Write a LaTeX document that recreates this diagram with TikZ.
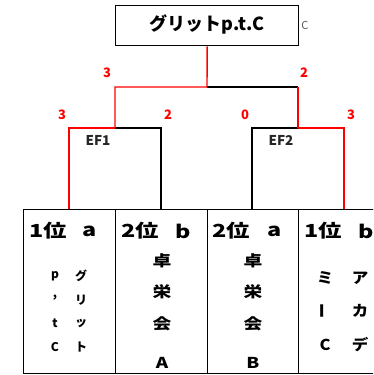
\documentclass[tikz,border=0pt]{standalone}
\usepackage{fontspec}
\setmainfont{Noto Sans CJK JP}
\begin{document}
\begin{tikzpicture}[x=1pt,y=-1pt,
  lw/.style={line width=1.4pt},
  blk/.style={lw,draw=black},
  win/.style={lw,draw=red},
  cell/.style={draw=black,lw,minimum width=#1,minimum height=164pt,inner sep=0pt,anchor=north west},
  score/.style={text=red,font=\bfseries\fontsize{13}{13}\selectfont,inner sep=0pt},
  ef/.style={text=black!85,font=\bfseries\fontsize{13.5}{13.5}\selectfont,inner sep=0pt},
  rank/.style={font=\bfseries\fontsize{18}{18}\selectfont,inner sep=0pt,xscale=1.3},
  big/.style={font=\bfseries\fontsize{15}{15}\selectfont,inner sep=0pt,xscale=1.25},
  mid/.style={font=\bfseries\fontsize{15}{15}\selectfont,inner sep=0pt,xscale=1.1},
  small/.style={font=\bfseries\fontsize{12}{12}\selectfont,inner sep=0pt}]
\useasboundingbox (0,0) rectangle (373,375);
\clip (0,0) rectangle (373,375);
% top box
\node[draw=black,lw,minimum width=183pt,minimum height=40pt,inner sep=0pt,anchor=north west] (top) at (115,5) {};
\node[font=\bfseries\fontsize{18}{18}\selectfont,inner sep=0pt] (title) at (207,24) {グリットp.t.C};
\node[text=black!65,font=\fontsize{11}{11}\selectfont,inner sep=0pt] (cc) at (305,25) {C};
% bottom cells
\node[cell=92pt] (r1) at (23,209) {};
\node[cell=92pt] (r2) at (115,209) {};
\node[cell=91pt] (r3) at (207,209) {};
\node[cell=92pt] (r4) at (298,209) {};
% bracket coordinates
\coordinate (fm) at (207,87);
\coordinate (fl) at (115,87);
\coordinate (fr) at (298,87);
\coordinate (e1m) at (115,128);
\coordinate (e1l) at (69,128);
\coordinate (e1r) at (161,128);
\coordinate (e2m) at (298,128);
\coordinate (e2l) at (252,128);
\coordinate (e2r) at (344,128);
% black lines
\draw[blk] (fm) -- (fr);
\draw[blk] (e1m) -- (e1r) -- (e1r |- r2.north);
\draw[blk] (e2m) -- (e2l) -- (e2l |- r3.north);
% red lines
\draw[win] (top.south) -- (fm) -- (fl) -- (e1m);
\draw[win] (fr) -- (e2m);
\draw[win] (e1m) -- (e1l) -- (e1l |- r1.north);
\draw[win] (e2m) -- (e2r) -- (e2r |- r4.north);
% scores
\node[score] (s1) at (107,73) {3};
\node[score] (s2) at (304,73) {2};
\node[score] (s3) at (62,115) {3};
\node[score] (s4) at (168,115) {2};
\node[score] (s5) at (245,115) {0};
\node[score] (s6) at (351,115) {3};
\node[ef] (ef1) at (98,140) {EF1};
\node[ef] (ef2) at (281,140) {EF2};
% rank labels
\node[rank,anchor=west] (l1a) at (29,231) {1位};
\node[rank] (l1b) at (90,231) {a};
\node[rank,anchor=west] (l2a) at (121,231) {2位};
\node[rank] (l2b) at (183,231) {b};
\node[rank,anchor=west] (l3a) at (212,231) {2位};
\node[rank] (l3b) at (275,231) {a};
\node[rank,anchor=west] (l4a) at (304,231) {1位};
\node[rank] (l4b) at (366,231) {b};
% box 1
\node[small] (p1) at (55,276) {p};
\node[small] (p2) at (55,298) {,};
\node[small] (p3) at (55,323) {t};
\node[small] (p4) at (55,347) {C};
\node[small] (g1) at (81,276) {グ};
\node[small] (g2) at (81,300) {リ};
\node[small] (g3) at (81,323) {ッ};
\node[small] (g4) at (81,347) {ト};
% box 2
\node[big] (a1) at (162,261) {卓};
\node[big] (a2) at (162,292) {栄};
\node[big] (a3) at (162,324) {会};
\node[big] (a4) at (162,363) {A};
% box 3
\node[big] (b1) at (253,261) {卓};
\node[big] (b2) at (253,292) {栄};
\node[big] (b3) at (253,324) {会};
\node[big] (b4) at (253,363) {B};
% box 4
\node[mid] (m1) at (325,278) {ミ};
\node[mid,rotate=90] (m2) at (325,311) {ー};
\node[mid] (m3) at (325,345) {C};
\node[mid] (k1) at (360,278) {ア};
\node[mid] (k2) at (360,311) {カ};
\node[mid] (k3) at (360,345) {デ};
\end{tikzpicture}
\end{document}
